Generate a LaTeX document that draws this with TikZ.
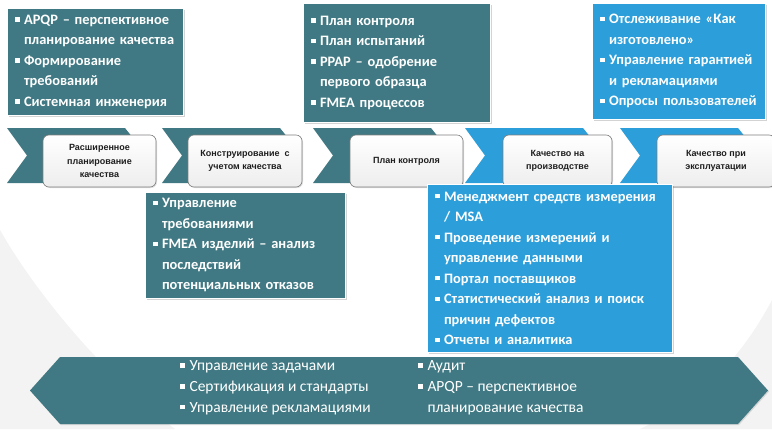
\documentclass[tikz,border=0pt]{standalone}
\usepackage{fontspec}
\setmainfont{Carlito}
\newfontfamily\stagefont{Liberation Sans}
\usetikzlibrary{shadows,positioning}
\definecolor{tealbg}{RGB}{64,121,131}
\definecolor{skyblue}{RGB}{44,158,218}
\definecolor{boxedge}{RGB}{125,125,125}
\definecolor{stagetext}{RGB}{30,30,30}
\definecolor{swoosh}{RGB}{243,243,243}
\newcommand{\bul}{\makebox[0.6em][l]{\rule[0.2em]{0.3em}{0.3em}}}
\newcommand{\ind}{\hspace*{0.6em}}

\begin{document}
\begin{tikzpicture}[x=1pt,y=-1pt,
    infobox/.style={draw=white, line width=0.8pt, text=white, align=left, anchor=north west,
      inner xsep=8pt, inner ysep=0pt,
      font=\fontsize{14.4}{20.5}\selectfont\bfseries,
      drop shadow={shadow xshift=1.2pt, shadow yshift=-1.2pt, opacity=0.35}},
    tealbox/.style={infobox, fill=tealbg},
    bluebox/.style={infobox, fill=skyblue},
    stagebox/.style={draw=boxedge, line width=0.6pt, rounded corners=6pt,
      top color=white, bottom color=gray!14, text=stagetext, align=center,
      minimum height=52, font=\stagefont\fontsize{9}{13.5}\selectfont\bfseries,
      drop shadow={shadow xshift=1pt, shadow yshift=-1pt, opacity=0.25}},
    bandtext/.style={text=white, align=left, anchor=west, inner sep=0pt,
      font=\fontsize{15.5}{20.8}\selectfont}]
    \useasboundingbox (0,0) rectangle (772,429);
    % background
    \fill[swoosh] (0,429) -- (0,230) .. controls (40,300) and (110,380) .. (175,429) -- cycle;
    \fill[swoosh] (772,429) -- (772,300) .. controls (740,360) and (700,400) .. (640,429) -- cycle;
    % chevrons
    \foreach \x/\c in {7/tealbg, 162/tealbg, 313/tealbg, 465/skyblue, 620/skyblue}
        \fill[\c] (\x,128) -- ++(118,0) -- ++(22,27.5) -- ++(-22,27.5) -- ++(-118,0) -- ++(20,-27.5) -- cycle;
    % stages
    \node[stagebox, minimum width=113] (stage1) at (99.5,161) {Расширенное\\планирование\\качества};
    \node[stagebox, minimum width=114] (stage2) at (245,161) {Конструирование~ с\\учетом качества};
    \node[stagebox, minimum width=113] (stage3) at (406.5,161) {План контроля};
    \node[stagebox, minimum width=109] (stage4) at (557.5,161) {Качество на\\производстве};
    \node[stagebox, minimum width=118] (stage5) at (716,161) {Качество при\\эксплуатации};
    % upper boxes
    \node[tealbox, text width=160, minimum height=107] (planning) at (7,8)
        {\bul APQP – перспективное\\\ind планирование качества\\\bul Формирование\\\ind требований\\\bul Системная инженерия};
    \node[tealbox, text width=171, minimum height=119] (control) at (303,3)
        {\bul План контроля\\\bul План испытаний\\\bul PPAP – одобрение\\\ind первого образца\\\bul FMEA процессов};
    \node[bluebox, text width=157, minimum height=116] (usage) at (592,3)
        {\bul Отслеживание «Как\\\ind изготовлено»\\\bul Управление гарантией\\\ind и рекламациями\\\bul Опросы пользователей};
    % lower boxes
    \node[tealbox, text width=184, minimum height=106] (design) at (145,192)
        {\bul Управление\\\ind требованиями\\\bul FMEA изделий – анализ\\\ind последствий\\\ind потенциальных отказов};
    \node[bluebox, text width=229, minimum height=168] (production) at (427,184)
        {\bul Менеджмент средств измерения\\\ind / MSA\\\bul Проведение измерений и\\\ind управление данными\\\bul Портал поставщиков\\\bul Статистический анализ и поиск\\\ind причин дефектов\\\bul Отчеты и аналитика};
    % bottom band
    \fill[tealbg, drop shadow={shadow xshift=1pt, shadow yshift=-1pt, opacity=0.25}]
        (30,390.5) -- (60,357) -- (738,357) -- (768,390.5) -- (738,424) -- (60,424) -- cycle;
    \node[bandtext] (common1) at (180,388)
        {\bul Управление задачами\\\bul Сертификация и стандарты\\\bul Управление рекламациями};
    \node[bandtext] (common2) at (418,388)
        {\bul Аудит\\\bul APQP – перспективное\\\ind планирование качества};
\end{tikzpicture}
\end{document}
